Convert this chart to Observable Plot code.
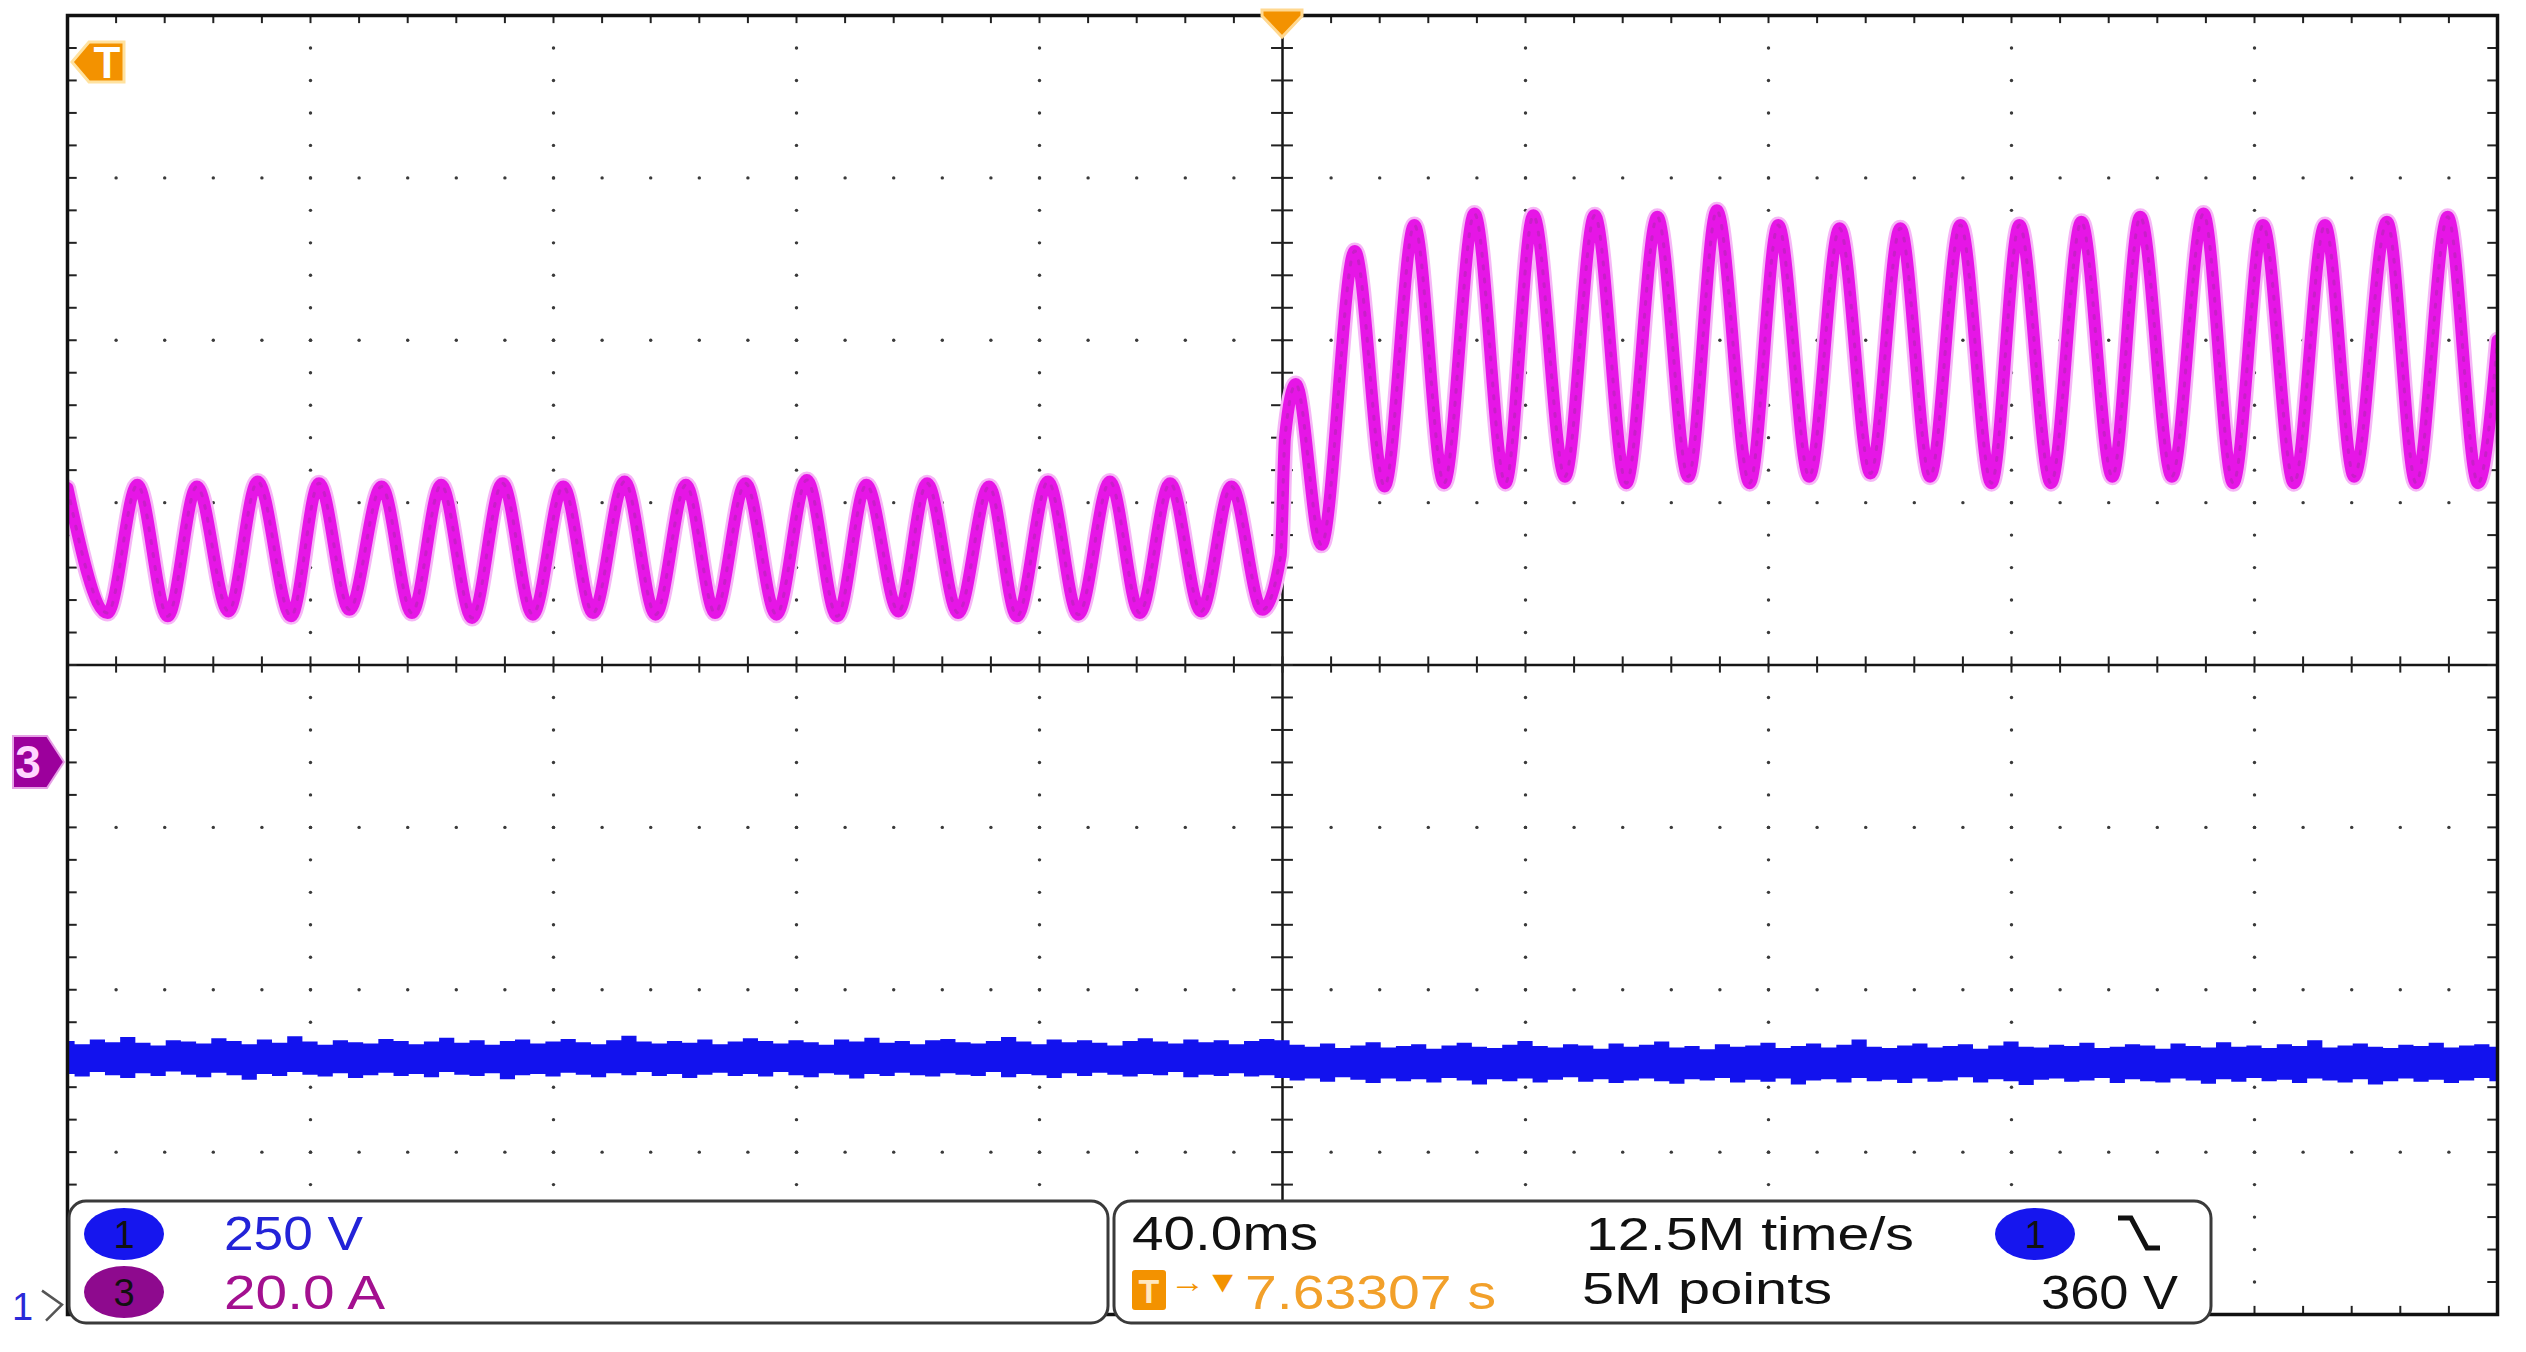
<!DOCTYPE html>
<html><head><meta charset="utf-8">
<script src="https://cdn.jsdelivr.net/npm/d3@7"></script>
<script src="https://cdn.jsdelivr.net/npm/@observablehq/plot@0.6"></script>
<style>
html,body{margin:0;padding:0;background:#fff;overflow:hidden}
#chart{position:relative;width:2526px;height:1352px}
</style></head><body><div id="chart"></div>
<script>
// ---- Channel 3 (current, magenta): extrema (time in ms, current in A)
const magTime = [-200, -193.4, -188.5, -183.5, -178.7, -173.5, -168.7, -163.2, -158.6, -153.6, -148.3, -143.3, -138.5, -133.4, -128.4, -123.4, -118.4, -113.5, -108.3, -103.2, -98.2, -93.4, -88.4, -83.3, -78.3, -73.3, -68.5, -63.2, -58.5, -53.4, -48.3, -43.7, -38.6, -33.6, -28.4, -23.5, -18.5, -13.4, -8.4, -3.3, -0.3, 0.4, 2.2, 6.4, 11.9, 16.8, 21.7, 26.6, 31.6, 36.7, 41.3, 46.5, 51.4, 56.6, 61.7, 66.8, 71.5, 76.9, 81.6, 86.7, 91.7, 96.8, 101.7, 106.6, 111.6, 116.7, 121.3, 126.5, 131.5, 136.6, 141.2, 146.4, 151.6, 156.5, 161.4, 166.5, 171.6, 176.4, 181.8, 186.6, 191.8, 196.8, 200];
const magCurrent = [33.8, 18.4, 34.2, 18.0, 34.0, 18.6, 34.6, 18.0, 34.4, 18.8, 34.0, 18.4, 34.2, 17.8, 34.4, 18.2, 34.0, 18.4, 34.6, 18.2, 34.2, 18.4, 34.4, 18.2, 34.8, 18.0, 34.2, 18.6, 34.4, 18.4, 34.0, 18.0, 34.6, 18.2, 34.6, 18.4, 34.4, 18.6, 34.0, 18.8, 25.5, 40.0, 46.6, 26.8, 63.0, 34.0, 66.2, 34.4, 67.6, 34.4, 67.4, 35.2, 67.4, 34.4, 67.2, 35.2, 68.0, 34.4, 66.2, 35.2, 65.8, 35.6, 65.8, 35.2, 66.2, 34.4, 66.2, 34.4, 66.6, 35.2, 67.2, 35.2, 67.6, 34.4, 66.2, 34.4, 66.2, 35.2, 66.6, 34.4, 67.2, 34.4, 52.0];

// ---- Channel 1 (DC voltage, blue): noise envelope, one sample every 2.5 ms from -200 ms
const blueStart = -200, blueStep = 2.5;
const blueHigh = [
403, 398, 405, 401, 409, 400, 396, 404, 402, 399, 407, 403, 398, 405, 400, 410, 402, 397, 404, 401,
399, 406, 403, 398, 402, 408, 400, 404, 397, 403, 405, 399, 402, 406, 401, 398, 404, 411, 402, 399,
403, 400, 405, 398, 402, 407, 403, 399, 404, 401, 397, 405, 402, 408, 400, 403, 398, 404, 406, 401,
399, 403, 409, 402, 398, 405, 401, 404, 400, 396, 403, 407, 402, 399, 405, 401, 404, 398, 403, 406,
404, 397, 394, 399, 392, 396, 401, 393, 395, 398, 391, 396, 400, 394, 392, 397, 403, 395, 393, 398,
396, 391, 399, 394, 397, 402, 393, 395, 390, 398, 394, 396, 400, 392, 395, 399, 393, 397, 405, 394,
392, 396, 399, 393, 395, 398, 391, 396, 402, 394, 393, 397, 395, 400, 392, 394, 398, 396, 391, 399,
395, 393, 401, 394, 396, 392, 398, 395, 404, 393, 396, 399, 394, 392, 397, 395, 400, 393, 396, 398, 394];
const blueLow = [
352, 348, 355, 350, 346, 353, 349, 356, 351, 347, 354, 350, 343, 352, 349, 355, 351, 348, 353, 346,
350, 354, 349, 352, 347, 355, 351, 349, 353, 344, 350, 352, 348, 354, 351, 347, 353, 350, 355, 349,
352, 346, 351, 354, 349, 352, 348, 355, 350, 347, 353, 351, 345, 352, 349, 354, 350, 348, 353, 351,
349, 355, 347, 352, 350, 346, 353, 349, 354, 351, 348, 352, 350, 355, 347, 351, 349, 353, 348, 350,
346, 342, 345, 340, 347, 343, 338, 345, 341, 344, 339, 346, 342, 336, 344, 341, 345, 339, 343, 347,
340, 344, 338, 342, 345, 341, 337, 344, 342, 346, 339, 343, 340, 345, 336, 342, 344, 339, 346, 341,
343, 338, 345, 340, 342, 347, 339, 344, 341, 335, 343, 345, 340, 342, 346, 338, 344, 341, 339, 345,
342, 337, 344, 340, 346, 341, 343, 338, 345, 342, 339, 344, 336, 341, 345, 340, 343, 338, 342, 346, 341];

// ---- scope settings
const ch1PerDiv = 250, ch3PerDiv = 20;      // V/div, A/div
const ch1Offset = -3.93, ch3Offset = -0.6;  // ground marker positions (div)
const timeRange = [-200, 200];              // ms (40.0 ms/div)
const divRange = [-4, 4];
const scaleLabels = ["250 V", "20.0 A"];
const timeLabels = ["40.0ms", "7.63307 s"];
const acqLabels = ["12.5M time/s", "5M points"];
const trigLevel = "360 V";

const mag = magTime.map((t, i) => ({t, a: magCurrent[i]}));
const blue = blueHigh.map((h, i) => ({t: blueStart + i * blueStep, hi: h, lo: blueLow[i]}));

const minorX = d3.range(-200, 200.001, 8).map(v => +v.toFixed(3));
const minorY = d3.range(-4, 4.001, 0.2).map(v => +v.toFixed(3));
const majorXInner = [-160, -120, -80, -40, 40, 80, 120, 160];
const majorYInner = [-3, -2, -1, 1, 2, 3];
const gridDots = [];
for (const y of majorYInner) for (const x of minorX.slice(1, -1)) gridDots.push({x, y});
for (const x of majorXInner) for (const y of minorY.slice(1, -1)) gridDots.push({x, y});

const yMag = d => d.a / ch3PerDiv + ch3Offset;

const plot = Plot.plot({
  width: 2526, height: 1352,
  marginLeft: 67, marginRight: 29, marginTop: 15, marginBottom: 38,
  x: {domain: timeRange, axis: null},
  y: {domain: divRange, axis: null},
  style: {background: "#fff", overflow: "visible"},
  marks: [
    Plot.dot(gridDots, {x: "x", y: "y", r: 1.7, fill: "#3a3a3a", stroke: null}),
    Plot.ruleX([0], {stroke: "#151515", strokeWidth: 2.5}),
    Plot.ruleY([0], {stroke: "#151515", strokeWidth: 2.5}),
    Plot.ruleY(minorY, {y: d => d, x1: -1.8, x2: 1.8, stroke: "#222", strokeWidth: 2}),
    Plot.ruleX(minorX, {x: d => d, y1: -0.05, y2: 0.05, stroke: "#222", strokeWidth: 2}),
    Plot.ruleY(minorY, {y: d => d, x1: -200, x2: -198.4, stroke: "#222", strokeWidth: 2}),
    Plot.ruleY(minorY, {y: d => d, x1: 198.4, x2: 200, stroke: "#222", strokeWidth: 2}),
    Plot.ruleX(minorX, {x: d => d, y1: 4, y2: 3.95, stroke: "#222", strokeWidth: 2}),
    Plot.ruleX(minorX, {x: d => d, y1: -4, y2: -3.95, stroke: "#222", strokeWidth: 2}),
    Plot.areaY(blue, {x: "t", y1: d => d.lo / ch1PerDiv + ch1Offset, y2: d => d.hi / ch1PerDiv + ch1Offset,
      curve: "step", fill: "#1212ee", clip: true}),
    Plot.line(mag, {x: "t", y: yMag, curve: "monotone-x", stroke: "#f6b6f6", strokeWidth: 17, clip: true}),
    Plot.line(mag, {x: "t", y: yMag, curve: "monotone-x", stroke: "#e616e6", strokeWidth: 12, clip: true}),
    Plot.line(mag, {x: "t", y: yMag, curve: "monotone-x", stroke: "#a52aa5", strokeWidth: 3,
      strokeDasharray: "3,10", strokeOpacity: 0.45, clip: true}),
    Plot.frame({stroke: "#111", strokeWidth: 3.5})
  ]
});
document.getElementById("chart").appendChild(plot);

// ---- scope annotations (markers and readout boxes)
const xs = plot.scale("x"), ys = plot.scale("y");
const svg = d3.select(plot);
const g = svg.append("g").attr("font-family", "'Liberation Sans', Arial, sans-serif")
  .attr("text-anchor", "start");

// trigger position marker (top, at t = 0)
const tx = xs.apply(0);
g.append("polygon").attr("points", `${tx-20},10 ${tx+20},10 ${tx+20},16 ${tx},37 ${tx-20},16`)
  .attr("fill", "#f39200").attr("stroke", "#ffd890").attr("stroke-width", 3);
// trigger level marker (top-left)
g.append("polygon").attr("points", "72,62 89,42 124,42 124,82 89,82")
  .attr("fill", "#f39200").attr("stroke", "#ffe2a0").attr("stroke-width", 3);
g.append("text").attr("x", 107).attr("y", 78).attr("text-anchor", "middle")
  .attr("font-size", 44).attr("font-weight", "bold").attr("fill", "#fff").text("T");
// channel 3 ground marker
const y3 = ys.apply(ch3Offset);
g.append("polygon").attr("points", `13,${y3-26} 47,${y3-26} 64,${y3} 47,${y3+26} 13,${y3+26}`)
  .attr("fill", "#9c009c").attr("stroke", "#e6a0e6").attr("stroke-width", 2);
g.append("text").attr("x", 28).attr("y", y3 + 16).attr("text-anchor", "middle")
  .attr("font-size", 46).attr("font-weight", "bold").attr("fill", "#ffd6ff").text("3");
// channel 1 ground marker
const y1 = ys.apply(ch1Offset);
g.append("text").attr("x", 12).attr("y", y1 + 17).attr("font-size", 38).attr("fill", "#2a2ad8").text("1");
g.append("polyline").attr("points", `42,${y1-12} 62,${y1+2} 46,${y1+18}`)
  .attr("fill", "none").attr("stroke", "#555").attr("stroke-width", 2.5);

// readout box 1
g.append("rect").attr("x", 69).attr("y", 1201).attr("width", 1039).attr("height", 122).attr("rx", 17)
  .attr("fill", "#fff").attr("stroke", "#3a3a3a").attr("stroke-width", 3);
g.append("ellipse").attr("cx", 124).attr("cy", 1234).attr("rx", 40).attr("ry", 26).attr("fill", "#1616ee");
g.append("text").attr("x", 124).attr("y", 1248).attr("text-anchor", "middle").attr("font-size", 38).attr("fill", "#111").text("1");
g.append("ellipse").attr("cx", 124).attr("cy", 1292).attr("rx", 40).attr("ry", 26).attr("fill", "#8e0a8e");
g.append("text").attr("x", 124).attr("y", 1306).attr("text-anchor", "middle").attr("font-size", 38).attr("fill", "#111").text("3");
g.append("text").attr("x", 224).attr("y", 1250).attr("font-size", 48).attr("fill", "#2323d8")
  .attr("textLength", 139).attr("lengthAdjust", "spacingAndGlyphs").text(scaleLabels[0]);
g.append("text").attr("x", 224).attr("y", 1309).attr("font-size", 48).attr("fill", "#a3108f")
  .attr("textLength", 161).attr("lengthAdjust", "spacingAndGlyphs").text(scaleLabels[1]);

// readout box 2
g.append("rect").attr("x", 1114).attr("y", 1201).attr("width", 1097).attr("height", 122).attr("rx", 17)
  .attr("fill", "#fff").attr("stroke", "#3a3a3a").attr("stroke-width", 3);
g.append("text").attr("x", 1132).attr("y", 1250).attr("font-size", 48).attr("fill", "#111")
  .attr("textLength", 186).attr("lengthAdjust", "spacingAndGlyphs").text(timeLabels[0]);
g.append("rect").attr("x", 1132).attr("y", 1270).attr("width", 34).attr("height", 40).attr("rx", 3).attr("fill", "#f39200");
g.append("text").attr("x", 1149).attr("y", 1303).attr("text-anchor", "middle").attr("font-size", 34)
  .attr("font-weight", "bold").attr("fill", "#ffe8c0").text("T");
g.append("text").attr("x", 1170).attr("y", 1292).attr("font-size", 30).attr("fill", "#f39200")
  .attr("textLength", 70).attr("lengthAdjust", "spacingAndGlyphs").text("→▼");
g.append("text").attr("x", 1245).attr("y", 1309).attr("font-size", 48).attr("fill", "#f2a02a")
  .attr("textLength", 251).attr("lengthAdjust", "spacingAndGlyphs").text(timeLabels[1]);
g.append("text").attr("x", 1586).attr("y", 1250).attr("font-size", 46).attr("fill", "#111")
  .attr("textLength", 328).attr("lengthAdjust", "spacingAndGlyphs").text(acqLabels[0]);
g.append("text").attr("x", 1582).attr("y", 1304).attr("font-size", 44).attr("fill", "#111")
  .attr("textLength", 250).attr("lengthAdjust", "spacingAndGlyphs").text(acqLabels[1]);
g.append("ellipse").attr("cx", 2035).attr("cy", 1234).attr("rx", 40).attr("ry", 26).attr("fill", "#1616ee");
g.append("text").attr("x", 2035).attr("y", 1248).attr("text-anchor", "middle").attr("font-size", 38).attr("fill", "#111").text("1");
g.append("path").attr("d", "M2118,1218 H2131 L2147,1248 H2160").attr("fill", "none")
  .attr("stroke", "#111").attr("stroke-width", 5);
g.append("text").attr("x", 2041).attr("y", 1309).attr("font-size", 48).attr("fill", "#111")
  .attr("textLength", 137).attr("lengthAdjust", "spacingAndGlyphs").text(trigLevel);
</script></body></html>
